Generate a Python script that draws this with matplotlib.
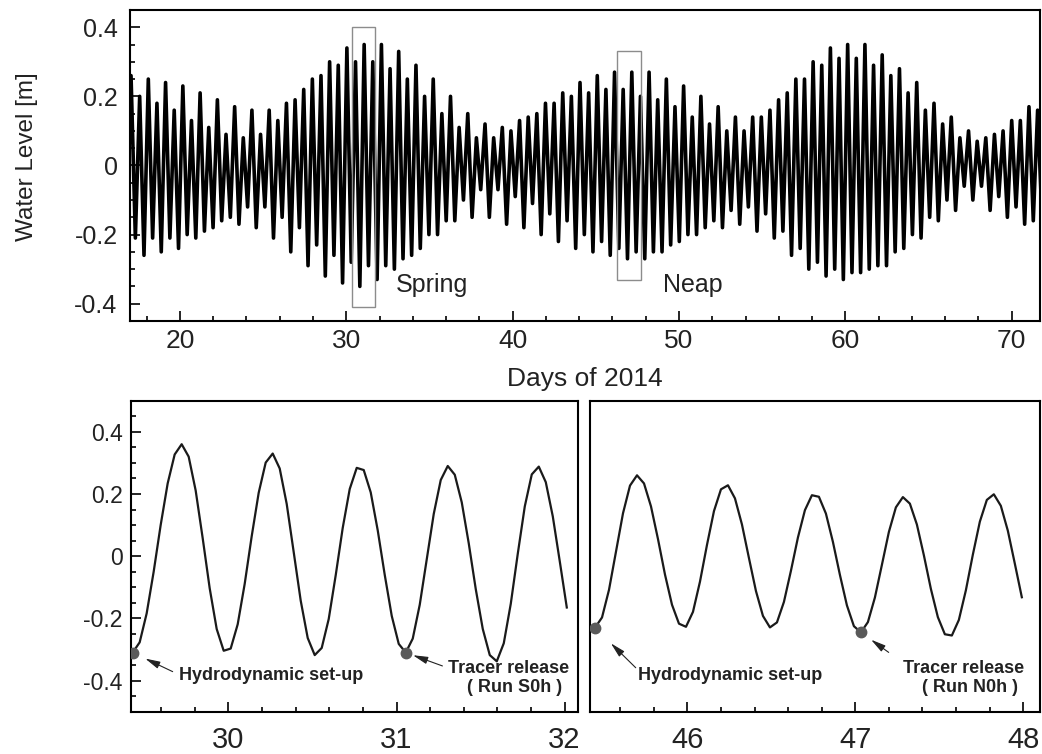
import numpy as np
import matplotlib
matplotlib.use('Agg')
import matplotlib.pyplot as plt
from matplotlib.ticker import MultipleLocator
from matplotlib.patches import Rectangle

plt.rcParams['font.family'] = ['Liberation Sans', 'DejaVu Sans']
plt.rcParams['axes.unicode_minus'] = False

# 上图：逐潮高潮位 / 低潮位 (m)
first_high_day = 17.06
half_tide = 0.2595          # 相邻高、低潮的时间间隔（天）
high_water = [
    0.26, 0.20, 0.25, 0.18, 0.24, 0.16, 0.23, 0.13, 0.21, 0.11, 0.19, 0.09,
    0.17, 0.08, 0.16, 0.09, 0.16, 0.13, 0.18, 0.19, 0.22, 0.25, 0.26, 0.30,
    0.29, 0.34, 0.30, 0.35, 0.30, 0.35, 0.28, 0.33, 0.25, 0.29, 0.20,
    0.25, 0.15, 0.20, 0.11, 0.15, 0.08, 0.12, 0.08, 0.11, 0.10, 0.13, 0.14,
    0.15, 0.18, 0.18, 0.21, 0.20, 0.24, 0.21, 0.26, 0.22, 0.27, 0.22, 0.27,
    0.20, 0.27, 0.19, 0.25, 0.17, 0.23, 0.14, 0.20, 0.12, 0.17, 0.10,
    0.14, 0.10, 0.14, 0.14, 0.16, 0.19, 0.21, 0.25, 0.25, 0.30, 0.29, 0.34,
    0.31, 0.35, 0.31, 0.35, 0.29, 0.32, 0.26, 0.28, 0.21, 0.24, 0.16, 0.18,
    0.12, 0.14, 0.08, 0.10, 0.07, 0.08, 0.09, 0.10, 0.13, 0.13, 0.17, 0.16,
]
low_water = [
    -0.21, -0.26, -0.21, -0.25, -0.21, -0.24, -0.20, -0.21, -0.19, -0.18,
    -0.16, -0.15, -0.17, -0.12, -0.18, -0.12, -0.21, -0.15, -0.25, -0.18,
    -0.29, -0.23, -0.32, -0.26, -0.34, -0.28, -0.35, -0.29, -0.33, -0.29,
    -0.30, -0.27, -0.26, -0.24, -0.20,
    -0.20, -0.16, -0.16, -0.10, -0.15, -0.07, -0.15, -0.07, -0.17, -0.09,
    -0.18, -0.11, -0.20, -0.14, -0.22, -0.16, -0.24, -0.20, -0.25, -0.22,
    -0.26, -0.24, -0.27, -0.25, -0.27, -0.25, -0.25, -0.23, -0.22, -0.20,
    -0.20, -0.18, -0.16, -0.18, -0.13,
    -0.17, -0.12, -0.19, -0.14, -0.21, -0.19, -0.26, -0.24, -0.30, -0.28,
    -0.32, -0.30, -0.33, -0.31, -0.31, -0.30, -0.29, -0.29, -0.25, -0.24,
    -0.20, -0.21, -0.15, -0.16, -0.10, -0.13, -0.06, -0.10, -0.06, -0.13,
    -0.09, -0.15, -0.12, -0.17, -0.16,
]
lead_low = -0.21
tail_low = -0.15

# 下图：大潮、小潮时段的逐时水位 (m)
spring_start = 29.43
spring_level = [
    -0.31, -0.277, -0.184, -0.050, 0.100, 0.234, 0.327, 0.36, 0.320, 0.211,
    0.058, -0.103, -0.234, -0.304, -0.297, -0.219, -0.089, 0.064, 0.204, 0.301,
    0.330, 0.282, 0.168, 0.013, -0.143, -0.263, -0.318, -0.295, -0.202, -0.061,
    0.091, 0.216, 0.284, 0.277, 0.205, 0.083, -0.060, -0.192, -0.282, -0.310,
    -0.265, -0.156, -0.010, 0.136, 0.245, 0.290, 0.262, 0.173, 0.041, -0.106,
    -0.234, -0.318, -0.338, -0.280, -0.153, 0.008, 0.160, 0.263, 0.288, 0.238,
    0.128, -0.017, -0.165,
]
neap_start = 45.45
neap_level = [
    -0.23, -0.197, -0.108, 0.015, 0.138, 0.227, 0.26, 0.234, 0.160, 0.055,
    -0.059, -0.156, -0.217, -0.227, -0.179, -0.082, 0.036, 0.145, 0.215, 0.228,
    0.186, 0.102, -0.006, -0.112, -0.192, -0.229, -0.213, -0.147, -0.047, 0.060,
    0.148, 0.196, 0.191, 0.137, 0.046, -0.060, -0.158, -0.225, -0.245, -0.212,
    -0.133, -0.028, 0.078, 0.157, 0.190, 0.169, 0.102, 0.003, -0.105, -0.196,
    -0.251, -0.255, -0.205, -0.110, 0.005, 0.111, 0.181, 0.199, 0.162, 0.082,
    -0.024, -0.132,
]
spring_marks = [0, 39]   # 水动力启动、示踪剂释放
neap_marks = [0, 38]

# 上图框选范围 (x0, x1, y0, y1)
spring_box = (30.33, 31.71, -0.41, 0.40)
neap_box = (46.25, 47.69, -0.33, 0.33)

level_ticks = [-0.4, -0.2, 0, 0.2, 0.4]
level_labels = ['-0.4', '-0.2', '0', '0.2', '0.4']


def style(ax):
    for s in ax.spines.values():
        s.set_linewidth(1.5)
    ax.tick_params(which='both', direction='in', top=False, right=False, width=1.2,
                   labelcolor='#222222')
    ax.tick_params(which='major', length=7)
    ax.tick_params(which='minor', length=3.5)


def mark_arrow(ax, x, y, tail, shrink):
    ax.annotate('', xy=(x, y), xytext=tail, textcoords='offset points',
                arrowprops=dict(arrowstyle='-|>,head_length=0.9,head_width=0.22',
                                color='#222222', lw=0.8, shrinkA=0, shrinkB=shrink))


fig = plt.figure(figsize=(10.42, 7.54), dpi=100)
ax_top = fig.add_axes([0.1248, 0.5743, 0.8733, 0.4125])
ax_s = fig.add_axes([0.1257, 0.0561, 0.429, 0.4125])
ax_n = fig.add_axes([0.5662, 0.0561, 0.4319, 0.4125])

# 上图
extremes = [lead_low]
for h, l in zip(high_water, low_water + [tail_low]):
    extremes += [h, l]
days = first_high_day - half_tide + np.arange(len(extremes)) * half_tide
ax_top.plot(days, extremes, color='k', lw=2.6)
for x0, x1, y0, y1 in (spring_box, neap_box):
    ax_top.add_patch(Rectangle((x0, y0), x1 - x0, y1 - y0, fill=False,
                               ec='#8c8c8c', lw=1.0, zorder=3))
ax_top.text(33.0, -0.345, 'Spring', fontsize=18, va='center', color='#222222')
ax_top.text(49.04, -0.345, 'Neap', fontsize=18, va='center', color='#222222')
ax_top.set_xlim(17, 71.7)
ax_top.set_ylim(-0.45, 0.45)
ax_top.xaxis.set_major_locator(MultipleLocator(10))
ax_top.xaxis.set_minor_locator(MultipleLocator(2))
ax_top.set_yticks(level_ticks)
ax_top.set_yticklabels(level_labels)
ax_top.yaxis.set_minor_locator(MultipleLocator(0.05))
style(ax_top)
ax_top.tick_params(axis='x', labelsize=19, pad=6)
ax_top.tick_params(axis='y', labelsize=18, pad=9)
ax_top.set_xlabel('Days of 2014', fontsize=19, color='#222222')
ax_top.xaxis.set_label_coords(0.5, -0.148)
ax_top.set_ylabel('Water Level [m]', fontsize=17.5, color='#222222')
ax_top.yaxis.set_label_coords(-0.101, 0.53)

# 下图
panels = [
    (ax_s, spring_start, spring_level, spring_marks, (29.42, 32.08), [30, 31, 32], 'S0h'),
    (ax_n, neap_start, neap_level, neap_marks, (45.42, 48.10), [46, 47, 48], 'N0h'),
]
for ax, start, level, marks, xlim, xt, run in panels:
    t = start + np.arange(len(level)) / 24
    v = np.array(level)
    ax.plot(t, v, color='#1a1a1a', lw=1.6)
    ax.plot(t[marks], v[marks], 'o', color='#5a5a5a', ms=7.5, zorder=3)
    ax.set_xlim(*xlim)
    ax.set_ylim(-0.5, 0.5)
    ax.set_xticks(xt)
    ax.xaxis.set_minor_locator(MultipleLocator(0.2))
    style(ax)
    ax.tick_params(axis='x', labelsize=21, pad=10)

    x0, x1 = xlim
    ax.text(x0 + 0.287, -0.384, 'Hydrodynamic set-up', fontsize=13,
            fontweight='bold', va='center', color='#222222')
    rel = t[marks[1]]
    ax.text(rel + 0.61, -0.362, 'Tracer release', fontsize=13,
            fontweight='bold', ha='center', va='center', color='#222222')
    ax.text(rel + 0.65, -0.421, '( Run %s )' % run, fontsize=13,
            fontweight='bold', ha='center', va='center', color='#222222')

ax_s.set_yticks(level_ticks)
ax_s.set_yticklabels(level_labels)
ax_s.yaxis.set_minor_locator(MultipleLocator(0.05))
ax_s.tick_params(axis='y', labelsize=16.5, pad=6)
ax_n.set_yticks([])

ts = spring_start + np.array(spring_marks) / 24
tn = neap_start + np.array(neap_marks) / 24
mark_arrow(ax_s, ts[0], spring_level[spring_marks[0]], (28.8, -13.7), 10)
mark_arrow(ax_s, ts[1], spring_level[spring_marks[1]], (26.4, -9.6), 5.5)
mark_arrow(ax_n, tn[0], neap_level[neap_marks[0]], (29.3, -28.8), 16)
mark_arrow(ax_n, tn[1], neap_level[neap_marks[1]], (20, -14.4), 9)

fig.savefig('out.png', dpi=100)
